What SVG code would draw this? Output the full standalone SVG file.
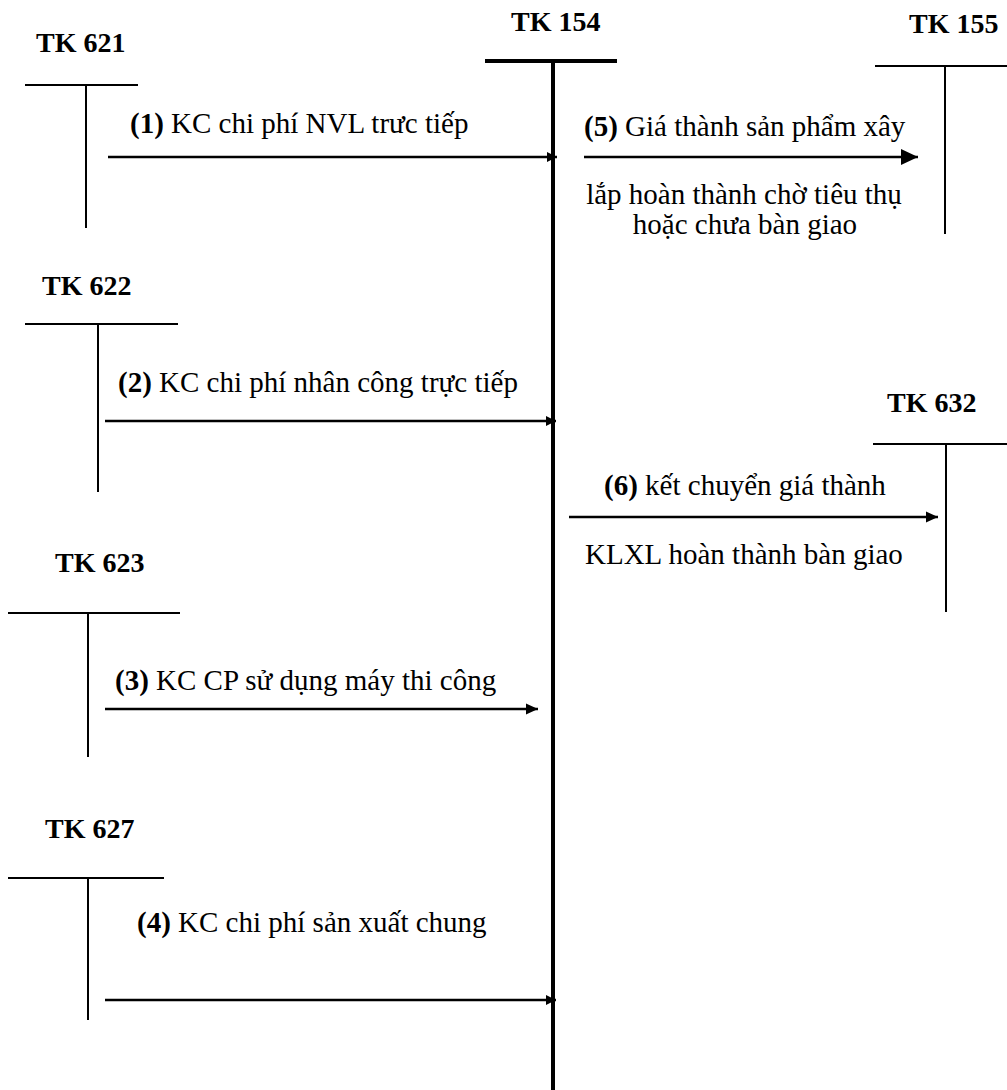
<svg xmlns="http://www.w3.org/2000/svg" width="1007" height="1090" viewBox="0 0 1007 1090">
<style>
.lbl{font-family:"Liberation Serif","Times New Roman",serif;font-weight:bold;font-size:28px;fill:#000}
.txt{font-family:"Liberation Serif","Times New Roman",serif;font-size:29px;fill:#000}
.mid{text-anchor:middle}
.b{font-weight:bold}
.t{stroke:#000;stroke-width:2;fill:none}
.main{stroke:#000;stroke-width:4;fill:none}
.arr{stroke:#000;stroke-width:2.5;fill:none}
</style>
<defs>
<marker id="ahS" markerUnits="userSpaceOnUse" markerWidth="11" markerHeight="11" refX="10" refY="5.5" orient="auto"><path d="M0,0.5 L10,5.5 L0,10.5 Z" fill="#000"/></marker>
<marker id="ahM" markerUnits="userSpaceOnUse" markerWidth="13" markerHeight="12" refX="12" refY="6" orient="auto"><path d="M0,0.5 L12,6 L0,11.5 Z" fill="#000"/></marker>
<marker id="ahL" markerUnits="userSpaceOnUse" markerWidth="18" markerHeight="18" refX="17" refY="9" orient="auto"><path d="M0,1 L17,9 L0,17 Z" fill="#000"/></marker>
</defs>
<g id="tk154">
<text class="lbl" x="511" y="31">TK 154</text>
<line class="main" x1="485" y1="61" x2="617" y2="61"/>
<line class="main" x1="553" y1="61" x2="553" y2="1090"/>
</g>
<g id="tk621">
<text class="lbl" x="36" y="52">TK 621</text>
<line class="t" x1="25" y1="85" x2="138" y2="85"/>
<line class="t" x1="86" y1="85" x2="86" y2="228"/>
</g>
<g id="tk622">
<text class="lbl" x="42" y="295">TK 622</text>
<line class="t" x1="25" y1="324" x2="178" y2="324"/>
<line class="t" x1="98" y1="324" x2="98" y2="492"/>
</g>
<g id="tk623">
<text class="lbl" x="55" y="572">TK 623</text>
<line class="t" x1="8" y1="613" x2="180" y2="613"/>
<line class="t" x1="88" y1="613" x2="88" y2="757"/>
</g>
<g id="tk627">
<text class="lbl" x="45" y="838">TK 627</text>
<line class="t" x1="8" y1="878" x2="164" y2="878"/>
<line class="t" x1="88" y1="878" x2="88" y2="1020"/>
</g>
<g id="tk155">
<text class="lbl" x="909" y="33">TK 155</text>
<line class="t" x1="875" y1="66" x2="1007" y2="66"/>
<line class="t" x1="945" y1="66" x2="945" y2="234"/>
</g>
<g id="tk632">
<text class="lbl" x="887" y="412">TK 632</text>
<line class="t" x1="873" y1="444" x2="1007" y2="444"/>
<line class="t" x1="946" y1="444" x2="946" y2="612"/>
</g>
<g id="connectors">
<line class="arr" x1="108" y1="157" x2="557" y2="157" marker-end="url(#ahS)"/>
<line class="arr" x1="105" y1="421" x2="556" y2="421" marker-end="url(#ahS)"/>
<line class="arr" x1="105" y1="709" x2="538" y2="709" marker-end="url(#ahM)"/>
<line class="arr" x1="105" y1="1000" x2="556" y2="1000" marker-end="url(#ahS)"/>
<line class="arr" x1="584" y1="157" x2="918" y2="157" marker-end="url(#ahL)"/>
<line class="arr" x1="569" y1="517" x2="938" y2="517" marker-end="url(#ahM)"/>
</g>
<g id="labels">
<text class="txt" x="130" y="133"><tspan class="b">(1)</tspan> KC chi phí NVL trưc tiếp</text>
<text class="txt" x="118" y="392"><tspan class="b">(2)</tspan> KC chi phí nhân công trực tiếp</text>
<text class="txt" x="115" y="690"><tspan class="b">(3)</tspan> KC CP sử dụng máy thi công</text>
<text class="txt" x="137" y="932"><tspan class="b">(4)</tspan> KC chi phí sản xuất chung</text>
<text class="txt" x="584" y="136"><tspan class="b">(5)</tspan> Giá thành sản phẩm xây</text>
<text class="txt mid" x="744" y="204">lắp hoàn thành chờ tiêu thụ</text>
<text class="txt mid" x="745" y="234">hoặc chưa bàn giao</text>
<text class="txt" x="604" y="495"><tspan class="b">(6)</tspan> kết chuyển giá thành</text>
<text class="txt" x="585" y="564">KLXL hoàn thành bàn giao</text>
</g>
</svg>
